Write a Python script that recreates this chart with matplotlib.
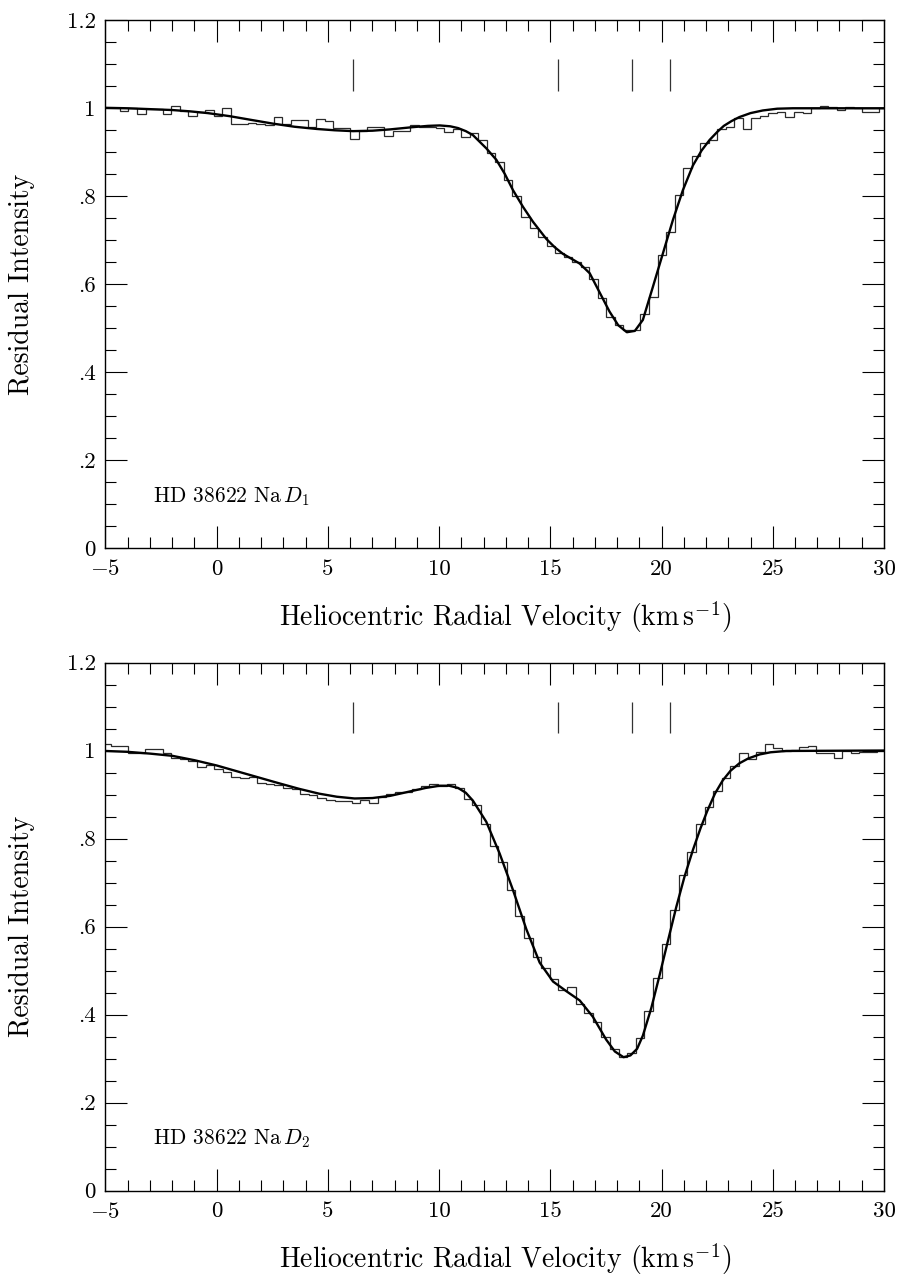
import numpy as np
import matplotlib
matplotlib.use("Agg")
import matplotlib.pyplot as plt
from matplotlib.ticker import MultipleLocator, FixedLocator

# ---------------- data ----------------
# Na D1 panel: binned spectrum (bin start, bin width in km/s) and values
d1_bin_start = -5.116
d1_bin_width = 0.3836
d1_flux = [1.000, 1.000, 0.994, 1.000, 0.986, 0.998, 0.998, 0.986, 1.006, 0.993,
           0.982, 0.991, 0.997, 0.982, 1.000, 0.964, 0.965, 0.966, 0.964, 0.962,
           0.981, 0.964, 0.974, 0.974, 0.957, 0.976, 0.970, 0.955, 0.955, 0.930,
           0.949, 0.958, 0.957, 0.937, 0.948, 0.949, 0.961, 0.957, 0.957, 0.955,
           0.945, 0.952, 0.934, 0.943, 0.928, 0.898, 0.879, 0.837, 0.801, 0.754,
           0.727, 0.708, 0.688, 0.670, 0.663, 0.650, 0.640, 0.611, 0.568, 0.525,
           0.507, 0.495, 0.496, 0.532, 0.570, 0.666, 0.718, 0.802, 0.864, 0.892,
           0.920, 0.928, 0.954, 0.958, 0.977, 0.954, 0.977, 0.982, 0.990, 0.992,
           0.981, 0.991, 0.989, 1.001, 1.006, 1.004, 0.996, 1.004, 1.001, 0.992,
           0.991, 1.001]
d1_fit_v = [-5.0, -4.0, -3.0, -2.0, -1.2, -0.4, 0.59, 1.5, 2.54, 3.5, 4.49, 5.3,
            6.13, 7.0, 7.8, 8.8, 9.5, 10.03, 10.5, 10.85, 11.2, 11.52, 12.12,
            12.57, 12.95, 13.32, 13.77, 14.22, 14.82, 15.2, 15.57, 15.95, 16.32,
            16.77, 17.21, 17.66, 18.05, 18.44, 18.80, 19.16, 19.61, 20.06, 20.51,
            20.96, 21.41, 21.80, 22.16, 22.50, 22.80, 23.15, 23.50, 24.00, 24.55,
            25.20, 25.90, 30.0]
d1_fit_y = [1.001, 1.000, 0.998, 0.996, 0.993, 0.989, 0.982, 0.974, 0.965, 0.958,
            0.953, 0.950, 0.948, 0.949, 0.952, 0.957, 0.960, 0.961, 0.959, 0.955,
            0.948, 0.939, 0.909, 0.883, 0.851, 0.814, 0.776, 0.742, 0.703, 0.684,
            0.669, 0.658, 0.647, 0.625, 0.582, 0.538, 0.507, 0.491, 0.494, 0.519,
            0.594, 0.670, 0.746, 0.814, 0.870, 0.904, 0.928, 0.946, 0.960, 0.971,
            0.980, 0.989, 0.995, 0.999, 1.000, 1.000]

# Na D2 panel
d2_bin_start = -5.136
d2_bin_width = 0.3867
d2_flux = [1.014, 1.011, 1.010, 0.994, 0.995, 1.003, 1.003, 0.994, 0.982, 0.980,
           0.977, 0.963, 0.968, 0.959, 0.952, 0.940, 0.938, 0.939, 0.927, 0.925,
           0.922, 0.914, 0.912, 0.901, 0.899, 0.891, 0.887, 0.885, 0.885, 0.880,
           0.887, 0.881, 0.894, 0.901, 0.905, 0.906, 0.912, 0.919, 0.925, 0.920,
           0.923, 0.914, 0.889, 0.876, 0.833, 0.783, 0.746, 0.684, 0.624, 0.573,
           0.530, 0.506, 0.480, 0.455, 0.463, 0.425, 0.404, 0.383, 0.349, 0.322,
           0.303, 0.313, 0.346, 0.408, 0.482, 0.560, 0.637, 0.717, 0.770, 0.832,
           0.871, 0.908, 0.938, 0.965, 0.994, 0.980, 0.997, 1.014, 1.006, 0.999,
           1.001, 1.009, 1.011, 0.994, 0.994, 0.982, 0.999, 0.995, 0.997, 0.997,
           0.999]
d2_fit_v = [-5.0, -4.0, -3.0, -2.0, -1.0, 0.0, 0.9, 1.8, 2.7, 3.7, 4.6, 5.4,
            6.2, 7.0, 7.8, 8.6, 9.4, 10.03, 10.45, 10.85, 11.2, 11.52, 12.12,
            12.72, 13.32, 13.92, 14.52, 15.12, 15.72, 16.32, 16.91, 17.51, 17.90,
            18.29, 18.60, 18.90, 19.16, 19.54, 19.91, 20.28, 20.66, 21.03, 21.41,
            21.75, 22.05, 22.40, 22.75, 23.10, 23.50, 23.90, 24.40, 24.90, 25.60,
            30.0]
d2_fit_y = [0.999, 0.997, 0.993, 0.988, 0.978, 0.966, 0.953, 0.940, 0.927, 0.913,
            0.902, 0.895, 0.891, 0.892, 0.897, 0.906, 0.915, 0.920, 0.920, 0.915,
            0.904, 0.886, 0.838, 0.766, 0.683, 0.594, 0.518, 0.475, 0.453, 0.432,
            0.395, 0.343, 0.316, 0.303, 0.307, 0.322, 0.352, 0.415, 0.489, 0.566,
            0.644, 0.713, 0.774, 0.823, 0.862, 0.902, 0.932, 0.954, 0.971, 0.982,
            0.991, 0.996, 0.999, 1.000]

# component velocities (tick marks)
component_v = [6.15, 15.33, 18.68, 20.36]

panel_titles = ["HD 38622 Na$\\,$$D_1$", "HD 38622 Na$\\,$$D_2$"]
x_tick_values = [-5, 0, 5, 10, 15, 20, 25, 30]
x_tick_labels = ["$-5$", "0", "5", "10", "15", "20", "25", "30"]
y_tick_values = [0, 0.2, 0.4, 0.6, 0.8, 1.0, 1.2]
y_tick_labels = ["0", ".2", ".4", ".6", ".8", "1", "1.2"]
x_label = "Heliocentric Radial Velocity (km$\\,$s$^{-1}$)"
y_label = "Residual Intensity"

# ---------------- style ----------------
plt.rcParams["font.family"] = ["cmr10", "DejaVu Serif"]
plt.rcParams["mathtext.fontset"] = "cm"
plt.rcParams["axes.formatter.use_mathtext"] = True
FS_TICK = 16.5
FS_LABEL = 20
FS_TITLE = 15.5

fig = plt.figure(figsize=(9, 12.75), dpi=100)
ax_top = fig.add_axes([0.1172, 0.5700, 0.8650, 0.4141])
ax_bot = fig.add_axes([0.1172, 0.06627, 0.8650, 0.4141])

panels = [
    (ax_top, d1_bin_start, d1_bin_width, d1_flux, d1_fit_v, d1_fit_y, panel_titles[0]),
    (ax_bot, d2_bin_start, d2_bin_width, d2_flux, d2_fit_v, d2_fit_y, panel_titles[1]),
]

for ax, b0, bw, flux, fv, fy, title in panels:
    edges = b0 + bw * np.arange(len(flux) + 1)
    ax.stairs(flux, edges, color="#2a2a2a", lw=0.9, baseline=None)
    ax.plot(fv, fy, color="black", lw=1.7, solid_joinstyle="round")
    ax.vlines(component_v, 1.039, 1.111, color="#333333", lw=0.9)

    ax.set_xlim(-5, 30)
    ax.set_ylim(0, 1.2)
    ax.xaxis.set_major_locator(FixedLocator(x_tick_values))
    ax.set_xticklabels(x_tick_labels)
    ax.xaxis.set_minor_locator(MultipleLocator(1))
    ax.yaxis.set_major_locator(FixedLocator(y_tick_values))
    ax.set_yticklabels(y_tick_labels)
    ax.yaxis.set_minor_locator(MultipleLocator(0.05))
    ax.tick_params(which="both", direction="in", top=True, right=True,
                   width=0.8, color="black")
    ax.tick_params(which="major", length=15.8, labelsize=FS_TICK)
    ax.tick_params(axis="x", which="major", pad=8)
    ax.tick_params(axis="y", which="major", pad=7)
    ax.tick_params(which="minor", length=7.9)
    for s in ax.spines.values():
        s.set_linewidth(1.0)

    ax.set_xlabel(x_label, fontsize=FS_LABEL, va="center")
    ax.xaxis.set_label_coords(0.513, -0.130)
    ax.set_ylabel(y_label, fontsize=FS_LABEL, va="center")
    ax.yaxis.set_label_coords(-0.107, 0.50)
    ax.text(0.0606, 0.0867, title, transform=ax.transAxes, fontsize=FS_TITLE,
            ha="left", va="baseline")

fig.savefig("out.png", dpi=100)
